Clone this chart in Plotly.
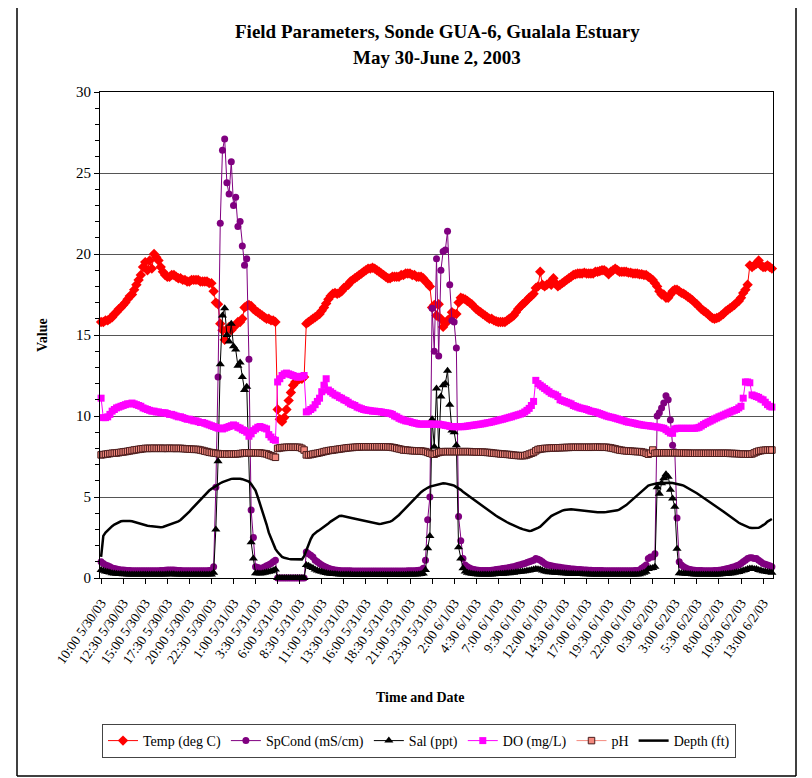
import plotly.graph_objects as go
import pandas as pd

# ---------------- data (15-minute readings, 10:00 5/30/03 onward) ----------------
START = "2003-05-30 10:00"
STEP = "15min"

TICK_LABELS = [
    "10:00 5/30/03", "12:30 5/30/03", "15:00 5/30/03", "17:30 5/30/03", "20:00 5/30/03", "22:30 5/30/03",
    "1:00 5/31/03", "3:30 5/31/03", "6:00 5/31/03", "8:30 5/31/03", "11:00 5/31/03", "13:30 5/31/03",
    "16:00 5/31/03", "18:30 5/31/03", "21:00 5/31/03", "23:30 5/31/03",
    "2:00 6/1/03", "4:30 6/1/03", "7:00 6/1/03", "9:30 6/1/03", "12:00 6/1/03", "14:30 6/1/03",
    "17:00 6/1/03", "19:30 6/1/03", "22:00 6/1/03",
    "0:30 6/2/03", "3:00 6/2/03", "5:30 6/2/03", "8:00 6/2/03", "10:30 6/2/03", "13:00 6/2/03",
]

TEMP = [
    15.8, 15.8, 15.9, 15.9, 16.0, 16.1, 16.3, 16.4, 16.6, 16.7,
    16.85, 17.0, 17.2, 17.4, 17.5, 17.8, 18.1, 18.4, 18.7, 19.2,
    19.5, 19.0, 19.6, 19.1, 20.0, 19.8, 19.6, 19.2, 18.9, 18.7,
    18.6, 18.6, 18.7, 18.7, 18.6, 18.5, 18.5, 18.4, 18.4, 18.3,
    18.3, 18.4, 18.4, 18.4, 18.4, 18.3, 18.3, 18.3, 18.3, 18.2,
    18.2, 17.7, 17.0, 16.9, 15.7, 15.3, 14.7, 15.3, 15.5, 15.3,
    15.5, 15.6, 15.8, 15.8, 16.0, 16.7, 16.8, 16.85, 16.8, 16.6,
    16.5, 16.4, 16.3, 16.2, 16.1, 16.0, 16.0, 15.9, 15.9, 15.8,
    10.4, 9.8, 9.65, 9.9, 10.4, 10.95, 11.45, 11.9, 12.1, 12.2,
    12.3, 12.3, 12.4, 15.7, 15.8, 15.9, 16.0, 16.1, 16.2, 16.3,
    16.5, 16.7, 16.95, 17.2, 17.4, 17.55, 17.6, 17.55, 17.6, 17.7,
    17.9, 18.0, 18.1, 18.3, 18.4, 18.5, 18.6, 18.7, 18.8, 18.9,
    19.0, 19.1, 19.1, 19.15, 19.1, 19.0, 18.9, 18.8, 18.7, 18.6,
    18.5, 18.5, 18.6, 18.6, 18.6, 18.6, 18.7, 18.7, 18.8, 18.8,
    18.8, 18.7, 18.7, 18.6, 18.6, 18.6, 18.5, 18.3, 18.2, 18.0,
    16.7, 16.85, 16.2, 16.9, 16.0, 15.5, 15.7, 15.9, 16.0, 16.4,
    16.3, 16.3, 17.0, 17.3, 17.25, 17.2, 17.1, 17.0, 16.9, 16.75,
    16.6, 16.5, 16.4, 16.3, 16.2, 16.1, 16.0, 16.0, 15.9, 15.85,
    15.8, 15.8, 15.8, 15.8, 15.9, 16.0, 16.1, 16.2, 16.4, 16.6,
    16.75, 16.9, 17.0, 17.15, 17.3, 17.4, 17.55, 17.9, 18.0, 18.9,
    18.1, 18.0, 18.1, 18.2, 18.1, 18.5, 18.2, 18.0, 18.1, 18.2,
    18.3, 18.4, 18.5, 18.6, 18.7, 18.75, 18.8, 18.8, 18.8, 18.85,
    18.8, 18.8, 18.8, 18.8, 18.9, 18.9, 18.95, 19.0, 19.0, 18.9,
    18.75, 18.9, 19.0, 19.1, 19.0, 18.9, 18.9, 18.9, 18.9, 18.85,
    18.85, 18.8, 18.8, 18.8, 18.75, 18.75, 18.7, 18.7, 18.6, 18.5,
    18.4, 18.2, 18.0, 17.7, 17.5, 17.5, 17.3, 17.3, 17.5, 17.7,
    17.8, 17.8, 17.7, 17.6, 17.55, 17.45, 17.35, 17.25, 17.15, 17.0,
    16.9, 16.75, 16.6, 16.5, 16.4, 16.3, 16.15, 16.05, 16.0, 16.05,
    16.1, 16.2, 16.3, 16.45, 16.55, 16.65, 16.75, 16.85, 17.0, 17.1,
    17.3, 17.6, 17.8, 18.1, 19.3, 19.2, 19.3, 19.4, 19.6, 19.3,
    19.2, 19.2, 19.3, 19.2, 19.1,
]

SPCOND = [
    1.0, 0.9, 0.8, 0.75, 0.7, 0.62, 0.58, 0.55, 0.52, 0.5,
    0.5, 0.48, 0.47, 0.46, 0.45, 0.45, 0.45, 0.44, 0.44, 0.44,
    0.44, 0.44, 0.44, 0.44, 0.44, 0.45, 0.45, 0.46, 0.47, 0.48,
    0.5, 0.5, 0.5, 0.5, 0.48, 0.47, 0.46, 0.45, 0.45, 0.44,
    0.44, 0.44, 0.44, 0.44, 0.44, 0.44, 0.45, 0.45, 0.45, 0.46,
    0.48, 0.7, 5.6, 12.4, 21.9, 26.4, 27.1, 24.4, 23.7, 25.7,
    23.0, 23.5, 21.7, 22.0, 20.5, 19.3, 19.7, 13.5, 4.2, 2.5,
    0.7, 0.65, 0.6, 0.62, 0.68, 0.75, 0.82, 0.9, 1.0, 1.1,
    0.0, 0.0, 0.0, 0.0, 0.0, 0.0, 0.0, 0.0, 0.0, 0.0,
    0.0, 0.0, 0.0, 1.6, 1.5, 1.4, 1.3, 1.1, 1.0, 0.9,
    0.8, 0.72, 0.66, 0.6, 0.56, 0.53, 0.5, 0.48, 0.46, 0.45,
    0.45, 0.44, 0.44, 0.44, 0.43, 0.43, 0.43, 0.43, 0.43, 0.43,
    0.43, 0.43, 0.43, 0.43, 0.43, 0.43, 0.43, 0.43, 0.43, 0.43,
    0.43, 0.43, 0.43, 0.43, 0.43, 0.43, 0.43, 0.43, 0.43, 0.44,
    0.44, 0.44, 0.45, 0.46, 0.48, 0.5, 0.6, 1.1, 3.6, 5.0,
    16.65, 14.0, 19.7, 13.7, 19.0, 20.15, 20.25, 21.4, 18.1, 15.9,
    15.8, 14.2, 3.8, 2.3, 1.2, 0.8, 0.7, 0.62, 0.56, 0.52,
    0.5, 0.48, 0.47, 0.46, 0.46, 0.46, 0.47, 0.48, 0.5, 0.52,
    0.54, 0.56, 0.58, 0.6, 0.62, 0.65, 0.68, 0.7, 0.74, 0.78,
    0.82, 0.86, 0.9, 0.95, 1.0, 1.05, 1.1, 1.2, 1.15, 1.1,
    1.0, 0.9, 0.82, 0.78, 0.75, 0.72, 0.7, 0.68, 0.66, 0.64,
    0.62, 0.6, 0.58, 0.56, 0.55, 0.54, 0.53, 0.52, 0.51, 0.5,
    0.49, 0.48, 0.48, 0.47, 0.47, 0.46, 0.46, 0.46, 0.45, 0.45,
    0.45, 0.45, 0.45, 0.45, 0.45, 0.45, 0.45, 0.45, 0.45, 0.45,
    0.45, 0.45, 0.46, 0.47, 0.5, 0.6, 0.7, 0.8, 1.2, 1.3,
    1.3, 1.5, 10.0, 10.2, 10.5, 10.8, 11.25, 11.0, 9.75, 8.2,
    7.8, 3.7, 1.0, 0.8, 0.7, 0.62, 0.56, 0.52, 0.5, 0.48,
    0.47, 0.46, 0.46, 0.45, 0.45, 0.45, 0.45, 0.45, 0.46, 0.47,
    0.48, 0.5, 0.52, 0.55, 0.58, 0.62, 0.66, 0.7, 0.75, 0.8,
    0.9, 1.0, 1.1, 1.2, 1.25, 1.25, 1.2, 1.2, 1.1, 1.0,
    0.9, 0.85, 0.8, 0.75, 0.7,
]

SAL = [
    0.5, 0.45, 0.4, 0.37, 0.34, 0.3, 0.28, 0.27, 0.25, 0.24,
    0.23, 0.23, 0.22, 0.22, 0.22, 0.22, 0.22, 0.22, 0.22, 0.22,
    0.22, 0.22, 0.22, 0.22, 0.22, 0.22, 0.22, 0.22, 0.22, 0.22,
    0.23, 0.23, 0.23, 0.23, 0.22, 0.22, 0.22, 0.22, 0.22, 0.22,
    0.22, 0.22, 0.22, 0.22, 0.22, 0.22, 0.22, 0.22, 0.22, 0.22,
    0.22, 0.33, 3.0, 7.2, 13.2, 16.2, 16.65, 15.0, 14.6, 15.7,
    14.3, 14.1, 13.1, 13.3, 12.4, 11.6, 11.8, 7.7, 2.2, 1.2,
    0.3, 0.3, 0.28, 0.29, 0.32, 0.35, 0.38, 0.42, 0.47, 0.52,
    0.0, 0.0, 0.0, 0.0, 0.0, 0.0, 0.0, 0.0, 0.0, 0.0,
    0.0, 0.0, 0.0, 0.8, 0.75, 0.68, 0.62, 0.53, 0.47, 0.42,
    0.38, 0.34, 0.31, 0.28, 0.26, 0.25, 0.24, 0.23, 0.22, 0.22,
    0.21, 0.21, 0.21, 0.21, 0.2, 0.2, 0.2, 0.2, 0.2, 0.2,
    0.2, 0.2, 0.2, 0.2, 0.2, 0.2, 0.2, 0.2, 0.2, 0.2,
    0.2, 0.2, 0.2, 0.2, 0.2, 0.2, 0.2, 0.2, 0.2, 0.21,
    0.21, 0.21, 0.21, 0.22, 0.23, 0.24, 0.28, 0.5, 1.83, 2.6,
    9.8, 8.1, 11.7, 7.9, 11.2, 11.9, 12.0, 12.8, 10.7, 9.1,
    9.0, 8.2, 1.9, 1.2, 0.6, 0.4, 0.33, 0.29, 0.26, 0.24,
    0.23, 0.22, 0.22, 0.21, 0.21, 0.21, 0.22, 0.22, 0.23, 0.24,
    0.25, 0.26, 0.27, 0.28, 0.29, 0.3, 0.32, 0.33, 0.35, 0.37,
    0.38, 0.4, 0.42, 0.45, 0.47, 0.5, 0.52, 0.56, 0.54, 0.52,
    0.47, 0.42, 0.38, 0.36, 0.35, 0.34, 0.33, 0.32, 0.31, 0.3,
    0.29, 0.28, 0.27, 0.26, 0.26, 0.25, 0.25, 0.24, 0.24, 0.23,
    0.23, 0.23, 0.22, 0.22, 0.22, 0.22, 0.22, 0.22, 0.21, 0.21,
    0.21, 0.21, 0.21, 0.21, 0.21, 0.21, 0.21, 0.21, 0.21, 0.21,
    0.21, 0.21, 0.22, 0.22, 0.23, 0.28, 0.33, 0.38, 0.56, 0.6,
    0.62, 0.7, 5.6, 5.2, 5.85, 6.15, 6.4, 6.25, 5.45, 4.9,
    4.4, 1.8, 0.3, 0.3, 0.28, 0.26, 0.25, 0.24, 0.23, 0.22,
    0.22, 0.21, 0.21, 0.21, 0.21, 0.21, 0.21, 0.21, 0.21, 0.22,
    0.22, 0.23, 0.24, 0.25, 0.27, 0.28, 0.3, 0.32, 0.35, 0.37,
    0.42, 0.47, 0.5, 0.55, 0.58, 0.58, 0.56, 0.56, 0.5, 0.47,
    0.42, 0.4, 0.37, 0.35, 0.33,
]

DO = [
    11.1, 9.9, 9.9, 9.95, 10.1, 10.3, 10.4, 10.5, 10.55, 10.6,
    10.65, 10.7, 10.75, 10.75, 10.8, 10.75, 10.7, 10.65, 10.6, 10.5,
    10.45, 10.4, 10.35, 10.3, 10.3, 10.25, 10.25, 10.2, 10.2, 10.2,
    10.15, 10.1, 10.1, 10.05, 10.0, 9.95, 9.95, 9.9, 9.85, 9.8,
    9.8, 9.75, 9.7, 9.7, 9.65, 9.6, 9.6, 9.55, 9.5, 9.45,
    9.4, 9.35, 9.3, 9.25, 9.25, 9.2, 9.25, 9.3, 9.35, 9.4,
    9.45, 9.4, 9.3, 9.25, 9.15, 9.1, 9.0, 8.75, 8.9, 9.1,
    9.2, 9.3, 9.35, 9.3, 9.25, 9.2, 8.85, 8.7, 8.55, 8.5,
    12.1, 12.3, 12.5, 12.6, 12.65, 12.6, 12.55, 12.5, 12.45, 12.4,
    12.4, 12.45, 12.5, 10.25, 10.3, 10.4, 10.5, 10.7, 10.9, 11.1,
    11.5, 11.9, 12.3, 11.6, 11.5, 11.4, 11.3, 11.25, 11.15, 11.1,
    11.0, 10.95, 10.85, 10.75, 10.7, 10.65, 10.55, 10.5, 10.45, 10.4,
    10.37, 10.35, 10.33, 10.3, 10.3, 10.28, 10.27, 10.25, 10.22, 10.2,
    10.18, 10.15, 10.1, 10.0, 9.95, 9.86, 9.8, 9.75, 9.7, 9.68,
    9.65, 9.6, 9.57, 9.54, 9.5, 9.5, 9.5, 9.5, 9.5, 9.5,
    9.5, 9.5, 9.48, 9.5, 9.47, 9.45, 9.42, 9.4, 9.36, 9.34,
    9.34, 9.34, 9.34, 9.34, 9.34, 9.36, 9.38, 9.4, 9.42, 9.44,
    9.46, 9.48, 9.5, 9.52, 9.55, 9.58, 9.6, 9.63, 9.67, 9.7,
    9.74, 9.77, 9.8, 9.84, 9.88, 9.92, 9.95, 10.0, 10.04, 10.08,
    10.12, 10.17, 10.25, 10.35, 10.47, 10.65, 10.9, 12.2, 12.0, 11.9,
    11.8, 11.7, 11.6, 11.5, 11.4, 11.35, 11.3, 11.2, 11.0, 10.95,
    10.9, 10.85, 10.8, 10.75, 10.65, 10.6, 10.55, 10.5, 10.47, 10.44,
    10.4, 10.35, 10.3, 10.27, 10.24, 10.2, 10.15, 10.1, 10.05, 10.0,
    9.96, 9.93, 9.9, 9.86, 9.82, 9.78, 9.74, 9.7, 9.65, 9.62,
    9.6, 9.57, 9.54, 9.5, 9.48, 9.45, 9.43, 9.41, 9.4, 9.38,
    9.36, 9.34, 9.32, 9.3, 9.27, 9.24, 9.15, 9.05, 8.95, 8.93,
    9.2, 9.24, 9.24, 9.24, 9.24, 9.24, 9.24, 9.24, 9.24, 9.24,
    9.26, 9.3, 9.38, 9.47, 9.55, 9.62, 9.68, 9.75, 9.82, 9.88,
    9.95, 10.0, 10.06, 10.12, 10.18, 10.24, 10.3, 10.35, 10.4, 10.5,
    10.6, 11.1, 12.1, 12.1, 12.05, 11.3, 11.25, 11.2, 11.15, 11.05,
    11.0, 10.85, 10.7, 10.6, 10.55,
]

PH = [
    7.6, 7.62, 7.64, 7.66, 7.68, 7.7, 7.71, 7.72, 7.74, 7.76,
    7.78, 7.8, 7.82, 7.85, 7.87, 7.9, 7.92, 7.94, 7.96, 7.98,
    8.0, 8.0, 8.0, 8.0, 8.01, 8.0, 8.0, 8.01, 8.0, 8.0,
    8.0, 8.01, 8.0, 8.0, 8.0, 8.0, 8.0, 7.99, 7.98, 7.97,
    7.96, 7.95, 7.94, 7.94, 7.93, 7.9, 7.87, 7.83, 7.8, 7.76,
    7.74, 7.72, 7.7, 7.68, 7.65, 7.65, 7.66, 7.65, 7.64, 7.66,
    7.65, 7.66, 7.67, 7.68, 7.7, 7.72, 7.72, 7.73, 7.72, 7.73,
    7.73, 7.72, 7.72, 7.7, 7.68, 7.66, 7.6, 7.55, 7.5, 7.45,
    8.0, 8.03, 8.05, 8.06, 8.07, 8.07, 8.07, 8.07, 8.07, 8.07,
    8.06, 8.0, 7.9, 7.6, 7.6, 7.62, 7.65, 7.68, 7.7, 7.73,
    7.76, 7.8, 7.83, 7.86, 7.88, 7.9, 7.92, 7.94, 7.96, 7.98,
    8.0, 8.02, 8.04, 8.05, 8.06, 8.07, 8.08, 8.09, 8.1, 8.1,
    8.1, 8.1, 8.1, 8.1, 8.1, 8.1, 8.1, 8.1, 8.1, 8.1,
    8.09, 8.08, 8.06, 8.04, 8.0, 7.97, 7.94, 7.9, 7.9, 7.88,
    7.87, 7.86, 7.85, 7.85, 7.84, 7.84, 7.82, 7.8, 7.75, 7.7,
    7.66, 7.64, 7.7, 7.75, 7.78, 7.8, 7.8, 7.8, 7.8, 7.8,
    7.8, 7.8, 7.8, 7.8, 7.8, 7.8, 7.8, 7.8, 7.79, 7.79,
    7.78, 7.78, 7.77, 7.77, 7.76, 7.75, 7.74, 7.72, 7.7, 7.69,
    7.68, 7.66, 7.65, 7.64, 7.63, 7.62, 7.6, 7.58, 7.57, 7.56,
    7.55, 7.55, 7.56, 7.6, 7.65, 7.7, 7.75, 7.85, 7.93, 7.96,
    7.98, 8.0, 8.0, 8.01, 8.02, 8.03, 8.03, 8.04, 8.04, 8.05,
    8.05, 8.06, 8.06, 8.07, 8.07, 8.07, 8.07, 8.07, 8.07, 8.07,
    8.07, 8.07, 8.07, 8.07, 8.08, 8.08, 8.07, 8.07, 8.07, 8.07,
    8.05, 8.03, 8.0, 7.97, 7.93, 7.9, 7.88, 7.86, 7.85, 7.84,
    7.83, 7.82, 7.81, 7.8, 7.8, 7.78, 7.75, 7.7, 7.64, 7.7,
    7.9, 7.7, 7.72, 7.73, 7.73, 7.73, 7.73, 7.73, 7.73, 7.73,
    7.73, 7.73, 7.72, 7.72, 7.72, 7.71, 7.71, 7.7, 7.7, 7.7,
    7.7, 7.7, 7.7, 7.7, 7.7, 7.7, 7.7, 7.7, 7.7, 7.7,
    7.7, 7.7, 7.7, 7.7, 7.7, 7.69, 7.69, 7.68, 7.68, 7.67,
    7.66, 7.65, 7.65, 7.64, 7.64, 7.66, 7.72, 7.78, 7.83, 7.86,
    7.88, 7.89, 7.9, 7.9, 7.9,
]

DEPTH = [
    1.3, 2.6, 2.8, 2.95, 3.1, 3.2, 3.3, 3.38, 3.45, 3.5,
    3.52, 3.53, 3.53, 3.52, 3.5, 3.46, 3.42, 3.37, 3.32, 3.27,
    3.25, 3.23, 3.21, 3.19, 3.17, 3.15, 3.14, 3.13, 3.15, 3.2,
    3.24, 3.27, 3.32, 3.38, 3.44, 3.5, 3.58, 3.7, 3.82, 3.95,
    4.1, 4.25, 4.4, 4.55, 4.68, 4.8, 4.95, 5.1, 5.25, 5.4,
    5.5, 5.6, 5.7, 5.78, 5.85, 5.92, 5.98, 6.03, 6.1, 6.12,
    6.13, 6.14, 6.14, 6.13, 6.1, 6.06, 6.0, 5.95, 5.8, 5.6,
    5.4, 5.0, 4.6, 4.2, 3.75, 3.3, 2.8, 2.45, 2.1, 1.8,
    1.6, 1.45, 1.3, 1.25, 1.2, 1.18, 1.16, 1.15, 1.15, 1.15,
    1.15, 1.15, 1.35, 1.7, 2.1, 2.4, 2.65, 2.78, 2.88, 2.96,
    3.05, 3.15, 3.25, 3.37, 3.48, 3.57, 3.66, 3.75, 3.83, 3.84,
    3.82, 3.8, 3.76, 3.72, 3.69, 3.66, 3.63, 3.59, 3.56, 3.52,
    3.5, 3.47, 3.44, 3.41, 3.38, 3.35, 3.33, 3.35, 3.38, 3.42,
    3.45, 3.48, 3.55, 3.65, 3.77, 3.89, 4.03, 4.17, 4.31, 4.45,
    4.6, 4.75, 4.9, 5.05, 5.2, 5.3, 5.4, 5.5, 5.57, 5.64,
    5.68, 5.72, 5.76, 5.8, 5.83, 5.85, 5.84, 5.82, 5.78, 5.74,
    5.7, 5.63, 5.54, 5.44, 5.33, 5.23, 5.13, 5.02, 4.92, 4.81,
    4.7, 4.6, 4.5, 4.4, 4.3, 4.2, 4.1, 4.01, 3.92, 3.84,
    3.76, 3.67, 3.58, 3.51, 3.44, 3.37, 3.3, 3.23, 3.17, 3.12,
    3.07, 3.02, 2.97, 2.93, 2.9, 2.92, 2.97, 3.03, 3.1, 3.17,
    3.3, 3.45, 3.6, 3.72, 3.82, 3.9, 3.97, 4.04, 4.12, 4.16,
    4.2, 4.22, 4.24, 4.24, 4.23, 4.22, 4.2, 4.18, 4.15, 4.14,
    4.13, 4.12, 4.11, 4.1, 4.08, 4.06, 4.05, 4.05, 4.06, 4.07,
    4.09, 4.11, 4.12, 4.14, 4.18, 4.24, 4.32, 4.41, 4.5, 4.62,
    4.74, 4.86, 4.98, 5.1, 5.25, 5.38, 5.5, 5.64, 5.7, 5.75,
    5.79, 5.82, 5.85, 5.86, 5.87, 5.88, 5.88, 5.88, 5.88, 5.86,
    5.84, 5.81, 5.78, 5.74, 5.7, 5.63, 5.55, 5.47, 5.39, 5.31,
    5.23, 5.14, 5.05, 4.96, 4.87, 4.78, 4.7, 4.6, 4.5, 4.4,
    4.3, 4.2, 4.1, 4.0, 3.89, 3.79, 3.68, 3.58, 3.48, 3.41,
    3.34, 3.27, 3.2, 3.15, 3.1, 3.08, 3.08, 3.09, 3.1, 3.17,
    3.25, 3.35, 3.48, 3.58, 3.64,
]

# ---------------- figure ----------------
times = pd.date_range(START, periods=len(TEMP), freq=STEP)
FONT = "Liberation Serif, Times New Roman, serif"

OFF = 8                       # page body margin in the browser
WIN_W, WIN_H = 812, 778
L, R, T, B = 100, 773, 92, 578  # plot area, in window pixels
W, H = WIN_W - OFF, WIN_H - OFF


def px_x(p):
    return (p - L) / (R - L)


def px_y(p):
    return (B - p) / (B - T)


fig = go.Figure()

series = [
    ("Temp (deg C)", TEMP, dict(symbol="diamond", size=8, color="#FF0000"), dict(color="#FF0000", width=1)),
    ("SpCond (mS/cm)", SPCOND, dict(symbol="circle", size=7, color="#800080"), dict(color="#800080", width=1)),
    ("Sal (ppt)", SAL, dict(symbol="triangle-up", size=8, color="#000000"), dict(color="#000000", width=1)),
    ("DO (mg/L)", DO, dict(symbol="square", size=7, color="#FF00FF"), dict(color="#FF00FF", width=1)),
    ("pH", PH, dict(symbol="square", size=6.5, color="#F4897E", line=dict(color="#4A1C1C", width=1)),
     dict(color="#F4897E", width=1)),
]
for name, vals, mk, ln in series:
    fig.add_trace(go.Scatter(
        x=times[:len(vals)], y=vals, name=name, mode="lines+markers",
        marker=mk, line=ln, cliponaxis=False,
    ))

fig.add_trace(go.Scatter(
    x=times[:len(DEPTH)], y=DEPTH, name="Depth (ft)", mode="lines",
    line=dict(color="#000000", width=2.5),
))

half = pd.Timedelta(minutes=7.5)
fig.update_xaxes(
    range=[times[0] - half, times[len(TEMP) - 1] + half],
    tickmode="array", tickvals=list(times[::10]), ticktext=TICK_LABELS,
    tickangle=-55, tickfont=dict(family=FONT, size=13.5, color="black"),
    ticks="outside", ticklen=5, tickcolor="black", ticklabelstandoff=6,
    showline=True, linecolor="black", linewidth=1, mirror=True,
    showgrid=False, zeroline=False,
)
fig.update_yaxes(
    range=[0, 30], dtick=5, tick0=0,
    tickfont=dict(family=FONT, size=15, color="black"),
    ticks="outside", ticklen=5, tickcolor="black",
    minor=dict(dtick=1, ticks="outside", ticklen=4, tickcolor="black", showgrid=False),
    showline=True, linecolor="black", linewidth=1, mirror=True,
    showgrid=True, gridcolor="#555555", gridwidth=1, zeroline=False,
)

annotations = [
    dict(text="<b>Field Parameters, Sonde GUA-6, Gualala Estuary</b>", x=px_x(437), y=px_y(32),
         font=dict(family=FONT, size=19, color="black")),
    dict(text="<b>May 30-June 2, 2003</b>", x=px_x(437), y=px_y(58),
         font=dict(family=FONT, size=19, color="black")),
    dict(text="<b>Value</b>", x=px_x(42), y=px_y(335), textangle=-90,
         font=dict(family=FONT, size=14, color="black")),
    dict(text="<b>Time and Date</b>", x=px_x(420), y=px_y(697),
         font=dict(family=FONT, size=14, color="black")),
]
for a in annotations:
    a.update(xref="paper", yref="paper", showarrow=False, xanchor="center", yanchor="middle")

frame = dict(color="black", width=1.5)
shapes = [
    dict(type="line", xref="paper", yref="paper", x0=px_x(17), x1=px_x(17), y0=px_y(776), y1=px_y(OFF), line=frame),
    dict(type="line", xref="paper", yref="paper", x0=px_x(17), x1=px_x(796), y0=px_y(776), y1=px_y(776), line=frame),
    dict(type="line", xref="paper", yref="paper", x0=px_x(796), x1=px_x(796), y0=px_y(776), y1=px_y(OFF), line=frame),
]

fig.update_layout(
    width=W, height=H,
    margin=dict(l=L - OFF, r=W - (R - OFF), t=T - OFF, b=H - (B - OFF), pad=0, autoexpand=False),
    paper_bgcolor="white", plot_bgcolor="white",
    font=dict(family=FONT, color="black"),
    annotations=annotations,
    shapes=shapes,
    showlegend=True,
    legend=dict(
        orientation="h", x=px_x(419), y=px_y(724), xanchor="center", yanchor="top",
        font=dict(family=FONT, size=14, color="black"),
        bordercolor="#444444", borderwidth=1, bgcolor="white",
        traceorder="normal", itemwidth=30,
    ),
)

fig.write_html("out.html")
